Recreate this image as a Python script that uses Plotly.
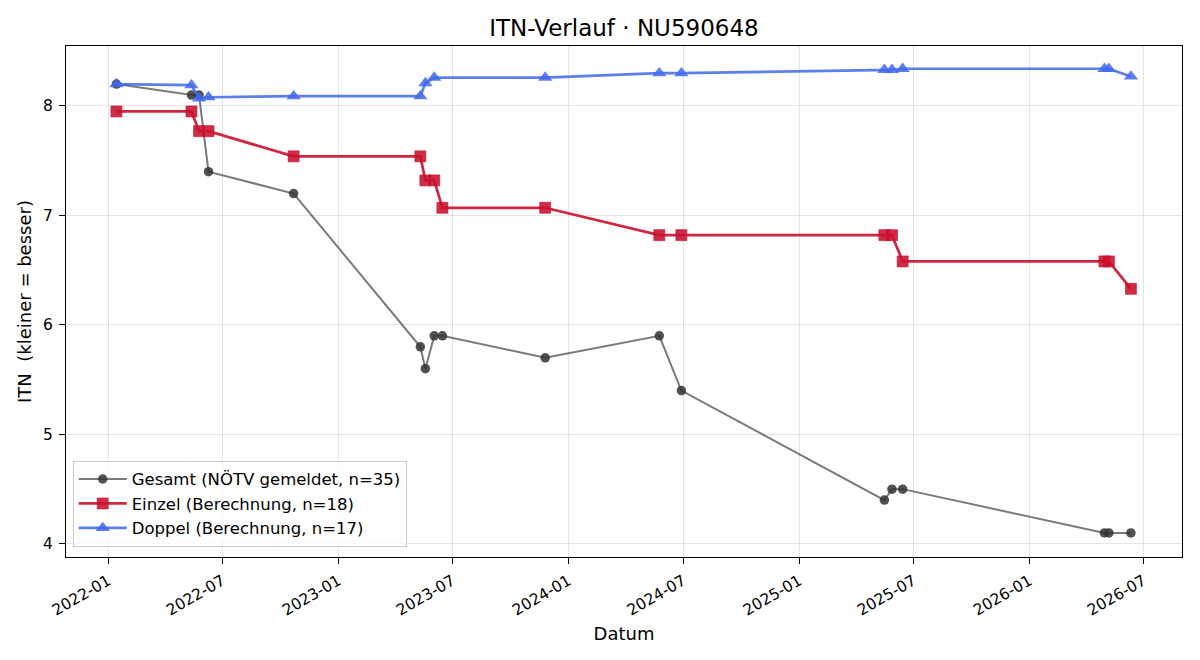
import plotly.graph_objects as go

# ---- data ----
gesamt_dates = ["2022-01-14", "2022-05-13", "2022-05-25", "2022-06-09", "2022-10-22",
                "2023-05-11", "2023-05-19", "2023-06-02", "2023-06-15", "2023-11-25",
                "2024-05-24", "2024-06-28", "2025-05-16", "2025-05-28", "2025-06-14",
                "2026-04-30", "2026-05-07", "2026-06-11"]
gesamt_itn = [8.2, 8.1, 8.1, 7.4, 7.2,
              5.8, 5.6, 5.9, 5.9, 5.7,
              5.9, 5.4, 4.4, 4.5, 4.5,
              4.1, 4.1, 4.1]

einzel_dates = ["2022-01-14", "2022-05-13", "2022-05-25", "2022-06-09", "2022-10-22",
                "2023-05-11", "2023-05-19", "2023-06-02", "2023-06-15", "2023-11-25",
                "2024-05-24", "2024-06-28", "2025-05-16", "2025-05-28", "2025-06-14",
                "2026-04-30", "2026-05-07", "2026-06-11"]
einzel_itn = [7.95, 7.95, 7.77, 7.77, 7.54,
              7.54, 7.32, 7.32, 7.07, 7.07,
              6.82, 6.82, 6.82, 6.82, 6.58,
              6.58, 6.58, 6.33]

doppel_dates = ["2022-01-14", "2022-05-13", "2022-05-25", "2022-06-09", "2022-10-22",
                "2023-05-11", "2023-05-19", "2023-06-02", "2023-11-25",
                "2024-05-24", "2024-06-28", "2025-05-16", "2025-05-28", "2025-06-14",
                "2026-04-30", "2026-05-07", "2026-06-11"]
doppel_itn = [8.2, 8.19, 8.07, 8.08, 8.09,
              8.09, 8.21, 8.26, 8.26,
              8.30, 8.30, 8.33, 8.33, 8.34,
              8.34, 8.34, 8.27]

series_names = ["Gesamt (NÖTV gemeldet, n=35)",
                "Einzel (Berechnung, n=18)",
                "Doppel (Berechnung, n=17)"]

FONT = "DejaVu Sans"

fig = go.Figure()
fig.add_trace(go.Scatter(
    x=gesamt_dates, y=gesamt_itn, mode="lines+markers", name=series_names[0],
    line=dict(color="rgba(51,51,51,0.65)", width=2),
    marker=dict(symbol="circle", size=9.5, color="rgba(51,51,51,0.85)",
                line=dict(width=0)),
))
fig.add_trace(go.Scatter(
    x=einzel_dates, y=einzel_itn, mode="lines+markers", name=series_names[1],
    line=dict(color="rgba(200,16,46,0.9)", width=2.7),
    marker=dict(symbol="square", size=11, color="rgba(200,16,46,0.88)",
                line=dict(width=1, color="rgba(200,16,46,0.6)")),
))
fig.add_trace(go.Scatter(
    x=doppel_dates, y=doppel_itn, mode="lines+markers", name=series_names[2],
    line=dict(color="rgba(65,105,235,0.85)", width=2.7),
    marker=dict(symbol="triangle-up", size=12.5, color="rgba(65,105,235,0.85)",
                line=dict(width=0)),
))

axis_common = dict(
    showline=True, linecolor="black", linewidth=1, mirror=True,
    ticks="outside", ticklen=6, tickcolor="black", tickwidth=1,
    showgrid=True, gridcolor="rgba(0,0,0,0.1)", gridwidth=1,
    zeroline=False,
    tickfont=dict(family=FONT, size=15.5, color="black"),
)

fig.update_layout(
    width=1200, height=660,
    paper_bgcolor="white", plot_bgcolor="white",
    margin=dict(l=66, r=18, t=46, b=103),
    title=dict(text="ITN-Verlauf · NU590648", x=0.52, xanchor="center",
               y=0.957, yanchor="middle",
               font=dict(family=FONT, size=23, color="black")),
    font=dict(family=FONT, size=14, color="black"),
    xaxis=dict(
        type="date", range=["2021-10-26", "2026-08-31"],
        tick0="2022-01-01", dtick="M6", tickformat="%Y-%m", tickangle=-30,
        ticklabelstandoff=2,
        title=dict(text="Datum", font=dict(family=FONT, size=18), standoff=8),
        **axis_common,
    ),
    yaxis=dict(
        range=[3.88, 8.548], tickvals=[4, 5, 6, 7, 8],
        ticklabelstandoff=3,
        title=dict(text="ITN  (kleiner = besser)", font=dict(family=FONT, size=18), standoff=6),
        **axis_common,
    ),
    legend=dict(
        x=0.006, y=0.02, xanchor="left", yanchor="bottom",
        bgcolor="rgba(255,255,255,0.8)", bordercolor="#cccccc", borderwidth=1,
        font=dict(family=FONT, size=16.5, color="black"),
        tracegroupgap=0, itemsizing="trace", itemwidth=48,
    ),
    showlegend=True,
)

fig.write_html("out.html")
